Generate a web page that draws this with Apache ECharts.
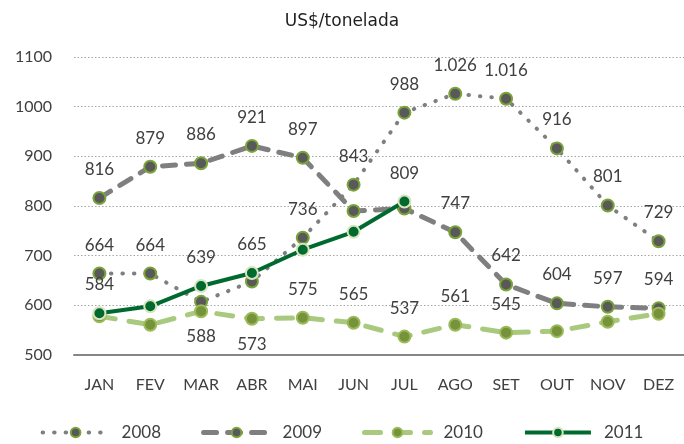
<!DOCTYPE html>
<html>
<head>
<meta charset="utf-8">
<script src="https://cdn.jsdelivr.net/npm/echarts@6/dist/echarts.min.js"></script>
<style>
  html, body { margin: 0; padding: 0; background: #fff; }
  #chart { width: 684px; height: 444px; }
</style>
</head>
<body>
<div id="chart"></div>
<script>
const months = ['JAN', 'FEV', 'MAR', 'ABR', 'MAI', 'JUN', 'JUL', 'AGO', 'SET', 'OUT', 'NOV', 'DEZ']
const yTicks = [500, 600, 700, 800, 900, 1000, 1100]

const v2008 = [664, 664, 607, 648, 736, 843, 988, 1026, 1016, 916, 801, 729]
const v2009 = [816, 879, 886, 921, 897, 790, 795, 747, 642, 604, 597, 594]
const v2010 = [578, 561, 588, 573, 575, 565, 537, 561, 545, 548, 567, 583]
const v2011 = [584, 598, 639, 665, 712, 748, 809]

// which points carry a value label (1 = above, -1 = below, 0 = none)
const lbl2008 = [1, 1, 0, 0, 1, 1, 1, 1, 1, 1, 1, 1]
const lbl2009 = [1, 1, 1, 1, 1, 0, 0, 1, 1, 1, 1, 1]
const lbl2010 = [0, 0, -1, -1, 1, 1, 1, 1, 1, 0, 0, 0]
const lbl2011 = [1, 0, 1, 1, 0, 0, 1]

const font = 'Lato, "Open Sans", sans-serif'
const textColor = '#404040'

const fmt = (v) => {
  const s = String(v)
  return v >= 1000 ? s.slice(0, s.length - 3) + '.' + s.slice(-3) : s
}

const points = (vals, flags) =>
  vals.map((v, i) => ({
    value: v,
    label: flags[i] === 0
      ? { show: false }
      : { show: true, position: flags[i] > 0 ? 'top' : 'bottom', distance: flags[i] > 0 ? 13 : 10 }
  }))

const chart = echarts.init(document.getElementById('chart'))

const baseLabel = {
  color: textColor,
  fontSize: 17,
  fontFamily: font,
  formatter: (p) => fmt(p.value)
}

const option = {
  animation: false,
  title: {
    text: 'US$/tonelada',
    left: 'center',
    top: 8,
    textStyle: { fontFamily: '"DejaVu Sans", sans-serif', fontSize: 17, fontWeight: 'normal', color: '#1f1f1f' }
  },
  grid: { left: 74, right: -3, top: 57, bottom: 89 },
  legend: {
    bottom: -2,
    left: 'center',
    itemWidth: 66,
    itemHeight: 12,
    itemGap: 40,
    textStyle: { fontFamily: font, fontSize: 17, color: textColor, padding: [0, 0, 0, 8] },
    data: [
      { name: '2008', lineStyle: { width: 4 } },
      { name: '2009', lineStyle: { width: 5 } },
      { name: '2010', lineStyle: { width: 5 } },
      { name: '2011', lineStyle: { width: 4 } }
    ]
  },
  xAxis: {
    type: 'category',
    data: months,
    axisTick: { show: false },
    axisLine: { lineStyle: { color: '#868686', width: 2 } },
    axisLabel: { color: textColor, fontSize: 16, fontFamily: font, margin: 22 }
  },
  yAxis: {
    type: 'value',
    min: yTicks[0],
    max: yTicks[yTicks.length - 1],
    interval: 100,
    axisLine: { show: false },
    axisTick: { show: false },
    axisLabel: { color: textColor, fontSize: 16, fontFamily: font, margin: 22, formatter: (v) => String(v) },
    splitLine: { lineStyle: { color: '#a6a6a6', type: [1.5, 2], width: 1 } }
  },
  series: [
    {
      name: '2008',
      type: 'line',
      data: points(v2008, lbl2008),
      symbol: 'circle',
      symbolSize: 12,
      itemStyle: { color: '#595959', borderColor: '#7aa33a', borderWidth: 2 },
      lineStyle: { color: '#7f7f7f', width: 4, type: [0.5, 11], cap: 'round' },
      label: baseLabel,
      z: 2
    },
    {
      name: '2009',
      type: 'line',
      data: points(v2009, lbl2009),
      symbol: 'circle',
      symbolSize: 12,
      itemStyle: { color: '#595959', borderColor: '#7aa33a', borderWidth: 2 },
      lineStyle: { color: '#7f7f7f', width: 5, type: [13, 11], cap: 'round' },
      label: baseLabel,
      z: 3
    },
    {
      name: '2010',
      type: 'line',
      data: points(v2010, lbl2010),
      symbol: 'circle',
      symbolSize: 12,
      itemStyle: { color: '#76933c', borderColor: '#9bbb59', borderWidth: 2 },
      lineStyle: { color: '#a9c97f', width: 5, type: [16, 14], cap: 'round' },
      label: baseLabel,
      z: 4
    },
    {
      name: '2011',
      type: 'line',
      data: points(v2011, lbl2011),
      symbol: 'circle',
      symbolSize: 12,
      itemStyle: { color: '#006a2e', borderColor: '#d7e4bd', borderWidth: 2 },
      lineStyle: { color: '#006a2e', width: 4 },
      label: baseLabel,
      z: 5
    }
  ]
}

chart.setOption(option)
</script>
</body>
</html>
